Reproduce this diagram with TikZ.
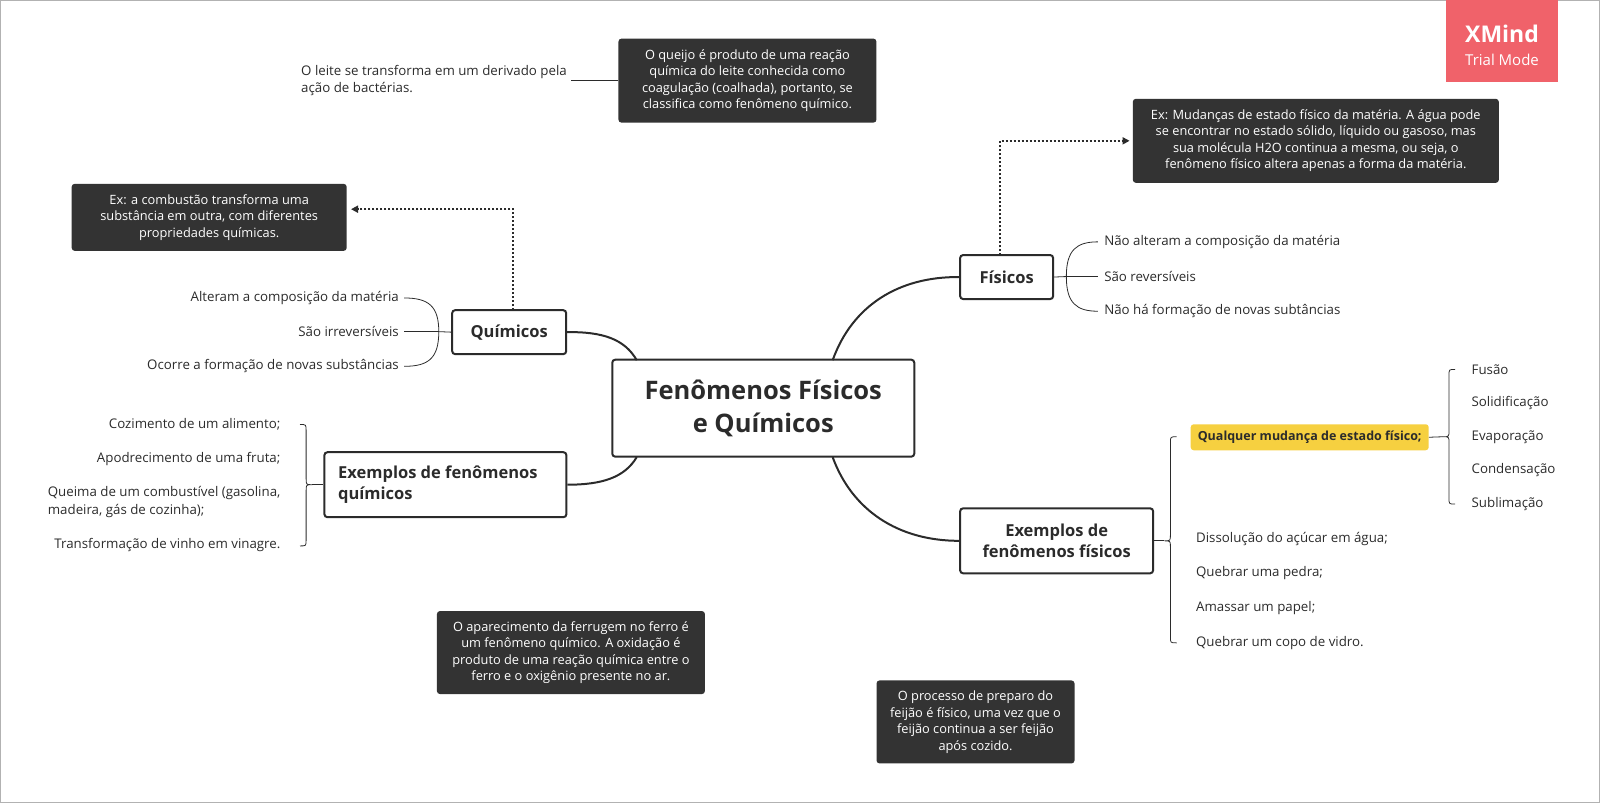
\documentclass[tikz,border=0pt]{standalone}
\usepackage{fontspec}
\setmainfont{Open Sans}
\usetikzlibrary{arrows.meta}
\definecolor{ink}{HTML}{2B2B2B}
\definecolor{dk}{HTML}{333333}
\definecolor{xred}{HTML}{F0626A}
\definecolor{yel}{HTML}{F6D040}
\begin{document}
\begin{tikzpicture}[x=1.0204pt,y=-1.0204pt,
  txt/.style={text=ink,font=\fontsize{13.3}{17.5}\selectfont,inner sep=0pt},
  topic/.style={draw=ink,line width=2pt,rounded corners=3pt,fill=white,text=ink,font=\fontsize{16.5}{21}\selectfont\bfseries,align=center,inner sep=0pt},
  note/.style={fill=dk,rounded corners=3pt,text=white,font=\fontsize{12.8}{16.5}\selectfont,align=center,inner sep=0pt},
  br/.style={draw=ink,line width=0.8pt},
  conn/.style={draw=ink,line width=2pt},
  dots/.style={draw=ink,line width=2pt,dotted,-{Triangle[length=7pt,width=7pt]}}]
\useasboundingbox (0,0) rectangle (1568,787);
\draw[gray!60] (0.5,0.5) rectangle (1567.5,786.5);
% XMind badge
\node[fill=xred,minimum width=112pt,minimum height=82pt,inner sep=0pt] (xm) at (1472,40) {};
\node[text=white,font=\fontsize{23}{25}\selectfont\bfseries] (xm1) at (1472,33) {XMind};
\node[text=white,font=\fontsize{15}{17}\selectfont] (xm2) at (1472,59) {Trial Mode};
% central
\node[topic,minimum width=302pt,minimum height=97pt,font=\fontsize{25.5}{33}\selectfont\bfseries] (c) at (748,400) {Fenômenos Físicos\\e Químicos};
\node[topic,minimum width=93pt,minimum height=44pt] (f) at (986.5,271.5) {Físicos};
\node[topic,minimum width=114pt,minimum height=44pt] (q) at (499,325.5) {Químicos};
\node[topic,minimum width=242pt,minimum height=65pt,align=left] (eq) at (436.5,475) {\hspace*{-15pt}Exemplos de fenômenos\\\hspace*{-15pt}químicos};
\node[topic,minimum width=193pt,minimum height=65pt] (ef) at (1035.5,530) {Exemplos de\\fenômenos físicos};
% main connectors
\draw[conn] (816,353) .. controls (835,300) and (880,271) .. (f.west);
\draw[conn] (624,353) .. controls (612,332) and (590,325) .. (q.east);
\draw[conn] (624,448) .. controls (612,468) and (590,475) .. (eq.east);
\draw[conn] (816,448) .. controls (835,500) and (880,530) .. (ef.west);
% notes
\node[note,minimum width=258pt,minimum height=84pt] (n1) at (732.5,79) {O queijo é produto de uma reação\\química do leite conhecida como\\coagulação (coalhada), portanto, se\\classifica como fenômeno químico.};
\node[txt,anchor=west,align=left] (n1t) at (295,79) {O leite se transforma em um derivado pela\\ação de bactérias.};
\draw[br] (n1.west) -- (560,79);
\node[note,minimum width=366pt,minimum height=84pt] (n2) at (1289.5,138) {Ex: Mudanças de estado físico da matéria. A água pode\\se encontrar no estado sólido, líquido ou gasoso, mas\\sua molécula H2O continua a mesma, ou seja, o\\fenômeno físico altera apenas a forma da matéria.};
\node[note,minimum width=275pt,minimum height=67pt] (n3) at (205,213) {Ex: a combustão transforma uma\\substância em outra, com diferentes\\propriedades químicas.};
\node[note,minimum width=268pt,minimum height=83pt] (n4) at (559.5,639.5) {O aparecimento da ferrugem no ferro é\\um fenômeno químico. A oxidação é\\produto de uma reação química entre o\\ferro e o oxigênio presente no ar.};
\node[note,minimum width=198pt,minimum height=83pt] (n5) at (956,707.5) {O processo de preparo do\\feijão é físico, uma vez que o\\feijão continua a ser feijão\\após cozido.};
% dotted arrows
\draw[dots] (980,250) -- (980,138) -- (1107,138);
\draw[dots] (503,304) -- (503,205) -- (344,205);
% Fisicos children
\node[txt,anchor=west] (f1) at (1082,237) {Não alteram a composição da matéria};
\node[txt,anchor=west] (f2) at (1082,271) {São reversíveis};
\node[txt,anchor=west] (f3) at (1082,305) {Não há formação de novas subtâncias};
\draw[br] (f.east) -- (1045,271);
\draw[br] (1045,271) .. controls (1045,245) and (1055,237) .. (1076,237);
\draw[br] (1045,271) -- (1076,271);
\draw[br] (1045,271) .. controls (1045,297) and (1055,305) .. (1076,305);
% Quimicos children
\node[txt,anchor=east] (q1) at (391,292) {Alteram a composição da matéria};
\node[txt,anchor=east] (q2) at (391,325) {São irreversíveis};
\node[txt,anchor=east] (q3) at (391,359) {Ocorre a formação de novas substâncias};
\draw[br] (q.west) -- (430,325);
\draw[br] (430,325) .. controls (430,300) and (420,292) .. (396,292);
\draw[br] (430,325) -- (396,325);
\draw[br] (430,325) .. controls (430,351) and (420,359) .. (396,359);
% Exemplos quimicos
\node[txt,anchor=east] (e1) at (275,416) {Cozimento de um alimento;};
\node[txt,anchor=east] (e2) at (275,450) {Apodrecimento de uma fruta;};
\node[txt,anchor=east,align=left] (e3) at (275,492) {Queima de um combustível (gasolina,\\madeira, gás de cozinha);};
\node[txt,anchor=east] (e4) at (275,534) {Transformação de vinho em vinagre.};
\draw[br] (294,416) .. controls (300,416) .. (300,422) -- (300,469) .. controls (300,475) .. (306,475) .. controls (300,475) .. (300,481) -- (300,529) .. controls (300,535) .. (294,535);
\draw[br] (306,475) -- (eq.west);
% Exemplos fisicos
\node[fill=yel,rounded corners=3pt,minimum width=238pt,minimum height=26pt,inner sep=0pt,text=ink,font=\fontsize{12.5}{17}\selectfont\bfseries] (y) at (1283.5,428.5) {Qualquer mudança de estado físico;};
\node[txt,anchor=west] (p1) at (1172,528) {Dissolução do açúcar em água;};
\node[txt,anchor=west] (p2) at (1172,562) {Quebrar uma pedra;};
\node[txt,anchor=west] (p3) at (1172,596) {Amassar um papel;};
\node[txt,anchor=west] (p4) at (1172,630) {Quebrar um copo de vidro.};
\draw[br] (1153,428) .. controls (1147,428) .. (1147,434) -- (1147,524) .. controls (1147,530) .. (1141,530) .. controls (1147,530) .. (1147,536) -- (1147,624) .. controls (1147,630) .. (1153,630);
\draw[br] (ef.east) -- (1141,530);
% states
\node[txt,anchor=west] (s1) at (1442,362) {Fusão};
\node[txt,anchor=west] (s2) at (1442,395) {Solidificação};
\node[txt,anchor=west] (s3) at (1442,428) {Evaporação};
\node[txt,anchor=west] (s4) at (1442,461) {Condensação};
\node[txt,anchor=west] (s5) at (1442,494) {Sublimação};
\draw[br] (1426,362) .. controls (1420,362) .. (1420,368) -- (1420,422) .. controls (1420,428) .. (1414,428) .. controls (1420,428) .. (1420,434) -- (1420,488) .. controls (1420,494) .. (1426,494);
\draw[br] (y.east) -- (1414,428);
\end{tikzpicture}
\end{document}
